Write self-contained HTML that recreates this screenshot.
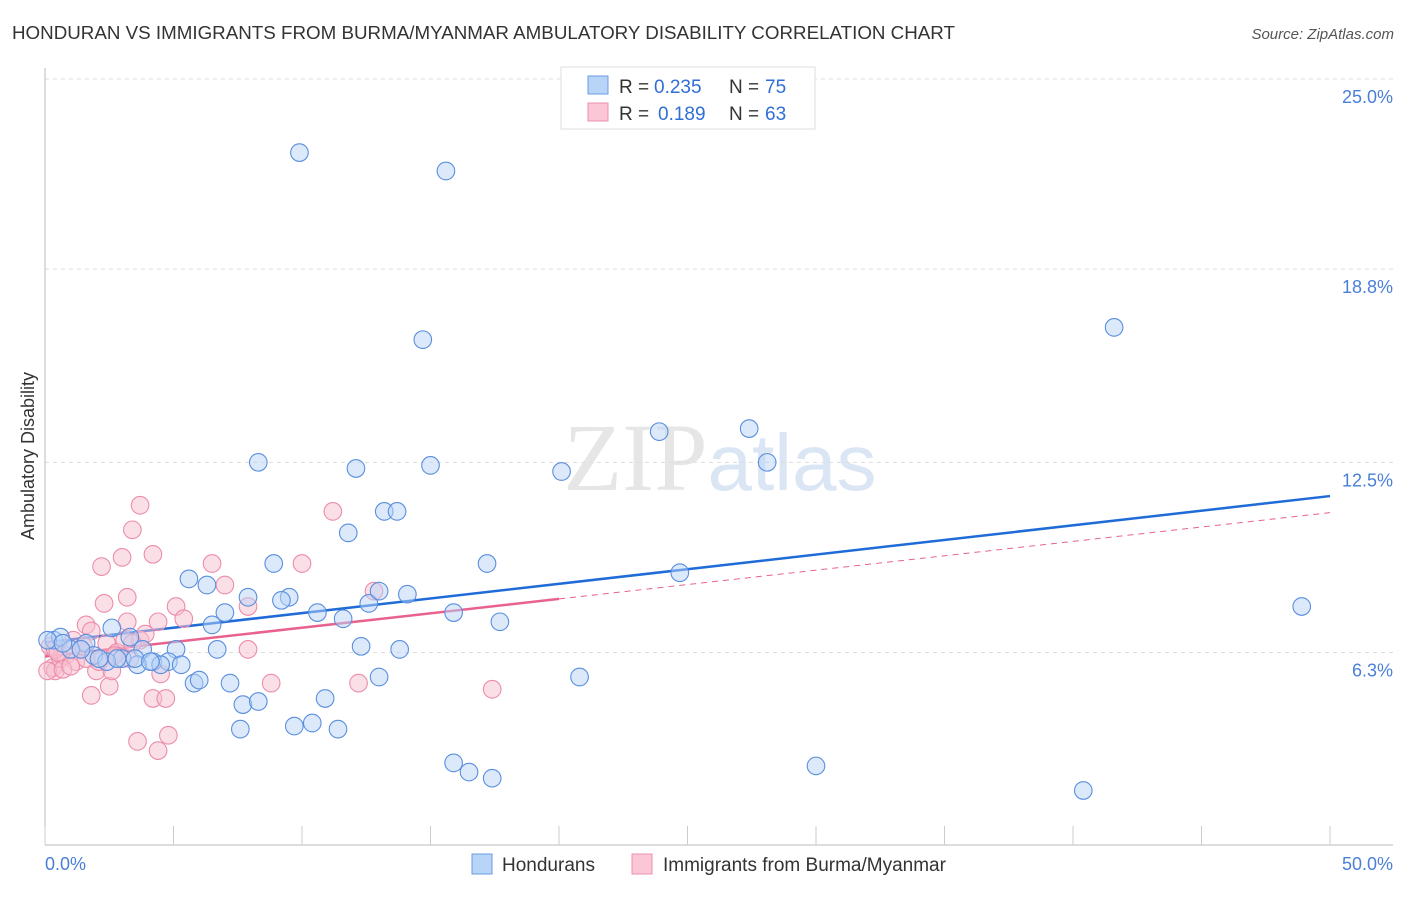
<!DOCTYPE html>
<html><head><meta charset="utf-8"><style>
body{margin:0;background:#fff;font-family:"Liberation Sans",sans-serif;}
svg text{font-family:"Liberation Sans",sans-serif;}
</style></head><body>
<svg id="chart" width="1406" height="892" xmlns="http://www.w3.org/2000/svg">
<text x="12" y="39" font-size="18" fill="#333" textLength="943" lengthAdjust="spacingAndGlyphs">HONDURAN VS IMMIGRANTS FROM BURMA/MYANMAR AMBULATORY DISABILITY CORRELATION CHART</text>
<text x="1394" y="39" font-size="15" fill="#555" text-anchor="end" font-style="italic">Source: ZipAtlas.com</text>
<text x="720" y="490" font-size="96" text-anchor="middle" fill="#e6e6e6"><tspan font-family="Liberation Serif">ZIP</tspan><tspan fill="#dbe6f5" font-size="80">atlas</tspan></text>
<text transform="translate(34,456) rotate(-90)" font-size="18" fill="#333" text-anchor="middle">Ambulatory Disability</text>
<g id="grid"></g><g id="axes"></g><g id="trends"></g><g id="pts"></g>
<g>
<rect x="561" y="67" width="254" height="62" fill="#fff" stroke="#ddd"/>
<rect x="588" y="76" width="20" height="18" fill="#b8d4f7" stroke="#6a9be0"/>
<text x="619" y="93" font-size="19" fill="#333">R =</text>
<text x="654" y="93" font-size="19" fill="#2f6fd6">0.235</text>
<text x="729" y="93" font-size="19" fill="#333">N =</text>
<text x="765" y="93" font-size="19" fill="#2f6fd6">75</text>
<rect x="588" y="103" width="20" height="18" fill="#fbc6d6" stroke="#ee8fab"/>
<text x="619" y="120" font-size="19" fill="#333">R =</text>
<text x="658" y="120" font-size="19" fill="#2f6fd6">0.189</text>
<text x="729" y="120" font-size="19" fill="#333">N =</text>
<text x="765" y="120" font-size="19" fill="#2f6fd6">63</text>
</g>
<g>
<rect x="472" y="854" width="20" height="20" fill="#b8d4f7" stroke="#6a9be0"/>
<text x="502" y="871" font-size="19" fill="#333">Hondurans</text>
<rect x="632" y="854" width="20" height="20" fill="#fbc6d6" stroke="#ee8fab"/>
<text x="663" y="871" font-size="19" fill="#333">Immigrants from Burma/Myanmar</text>
</g>
</svg>
<script>
const yTicks=[25.0,18.8,12.5,6.3];
const yTickLabels=["25.0%","18.8%","12.5%","6.3%"];
const xTickVals=[0,5,10,15,20,25,30,35,40,45,50];
const blueX=[9.9,15.6,41.6,14.7,23.9,27.4,8.3,28.1,12.1,15.0,20.1,13.2,13.7,11.8,17.2,8.9,5.6,6.3,24.7,9.5,9.2,7.9,14.1,12.6,13.0,48.9,7.0,10.6,11.6,15.9,6.5,17.7,2.6,0.35,0.6,0.1,1.6,3.3,5.1,6.7,12.3,13.8,3.8,1.9,3.0,4.2,4.8,5.3,3.6,4.5,2.4,1.0,13.0,20.8,5.8,6.0,7.2,10.9,7.7,8.3,7.6,9.7,10.4,11.4,15.9,16.5,17.4,30.0,40.4,0.7,1.4,2.1,2.8,3.5,4.1];
const blueY=[22.6,22.0,16.9,16.5,13.5,13.6,12.5,12.5,12.3,12.4,12.2,10.9,10.9,10.2,9.2,9.2,8.7,8.5,8.9,8.1,8.0,8.1,8.2,7.9,8.3,7.8,7.6,7.6,7.4,7.6,7.2,7.3,7.1,6.7,6.8,6.7,6.6,6.8,6.4,6.4,6.5,6.4,6.4,6.2,6.1,6.0,6.0,5.9,5.9,5.9,6.0,6.4,5.5,5.5,5.3,5.4,5.3,4.8,4.6,4.7,3.8,3.9,4.0,3.8,2.7,2.4,2.2,2.6,1.8,6.6,6.4,6.1,6.1,6.1,6.0];
const pinkX=[3.7,3.4,3.0,4.2,2.2,6.5,7.0,2.3,3.2,5.1,5.4,4.4,3.2,1.6,7.9,7.9,8.8,1.8,2.5,4.2,4.7,3.6,4.8,4.4,11.2,10.0,12.8,17.4,12.2,0.2,0.3,0.4,0.1,0.6,0.8,1.1,1.2,1.4,1.8,2.0,2.1,2.4,2.6,2.8,3.1,3.7,3.9,0.7,1.6,3.3,4.5,0.4,1.0,0.5,1.5,2.7,3.4];
const pinkY=[11.1,10.3,9.4,9.5,9.1,9.2,8.5,7.9,8.1,7.8,7.4,7.3,7.3,7.2,7.8,6.4,5.3,4.9,5.2,4.8,4.8,3.4,3.6,3.1,10.9,9.2,8.3,5.1,5.3,6.5,5.8,5.7,5.7,6.1,6.2,6.7,6.0,6.4,7.0,5.7,6.0,6.6,5.7,6.3,6.7,6.7,6.9,5.75,6.1,6.1,5.6,6.4,5.85,6.3,6.5,6.2,6.6];
const blueTrend=[6.63,11.4];
const pinkTrend=[6.17,10.86];
const pinkSolidEnd=20;
const NS="http://www.w3.org/2000/svg";
const X0=45,X1=1330,YT=79,YB=845;
const xs=v=>X0+v*(X1-X0)/50;
const ys=v=>YT+(25-v)*(654-79)/18.75;
function mk(tag,attrs,parent){const e=document.createElementNS(NS,tag);for(const k in attrs)e.setAttribute(k,attrs[k]);document.getElementById(parent).appendChild(e);return e;}
yTicks.forEach((t,i)=>{
 const l=mk('line',{x1:X0,x2:1393,y1:ys(t),y2:ys(t),stroke:'#ddd','stroke-dasharray':'4,4'},'grid');
 
 
 const tx=mk('text',{x:1393,y:ys(t)+24,'font-size':18,fill:'#4a7fd8','text-anchor':'end'},'grid');
 
 
 tx.textContent=yTickLabels[i];
});
let a=mk('line',{x1:X0,x2:X0,y1:68,y2:YB,stroke:'#bbb'},'axes');


a=mk('line',{x1:X0,x2:1393,y1:YB,y2:YB,stroke:'#bbb'},'axes');


xTickVals.forEach(v=>{
 const t=mk('line',{x1:xs(v),x2:xs(v),y1:826,y2:YB,stroke:'#ccc'},'axes');
 
 
});
let lb=mk('text',{x:45,y:870,'font-size':18,fill:'#4a7fd8'},'axes');


lb.textContent='0.0%';
lb=mk('text',{x:1393,y:870,'font-size':18,fill:'#4a7fd8','text-anchor':'end'},'axes');


lb.textContent='50.0%';
function pts(X,Y,fill,stroke,name){
 X.forEach((x,i)=>{
  const c=mk('circle',{cx:xs(x),cy:ys(Y[i]),r:8.8,fill:fill,'fill-opacity':0.5,stroke:stroke,'stroke-width':1.1},'pts');
  
  
 });
}
pts(pinkX,pinkY,'#f8bfd0','#ec8dab','point-burma');
pts(blueX,blueY,'#b8d4f7','#5a8fde','point-honduran');
const tv=(tr,x)=>tr[0]+(tr[1]-tr[0])*x/50;
let t=mk('line',{x1:xs(0),y1:ys(tv(pinkTrend,0)),x2:xs(pinkSolidEnd),y2:ys(tv(pinkTrend,pinkSolidEnd)),stroke:'#e8628d','stroke-width':2.5},'trends');


t=mk('line',{x1:xs(pinkSolidEnd),y1:ys(tv(pinkTrend,pinkSolidEnd)),x2:xs(50),y2:ys(tv(pinkTrend,50)),stroke:'#e8628d','stroke-width':1,'stroke-dasharray':'6,5'},'trends');


t=mk('line',{x1:xs(0),y1:ys(tv(blueTrend,0)),x2:xs(50),y2:ys(tv(blueTrend,50)),stroke:'#1f6bd8','stroke-width':2.5},'trends');


</script>
</body></html>
